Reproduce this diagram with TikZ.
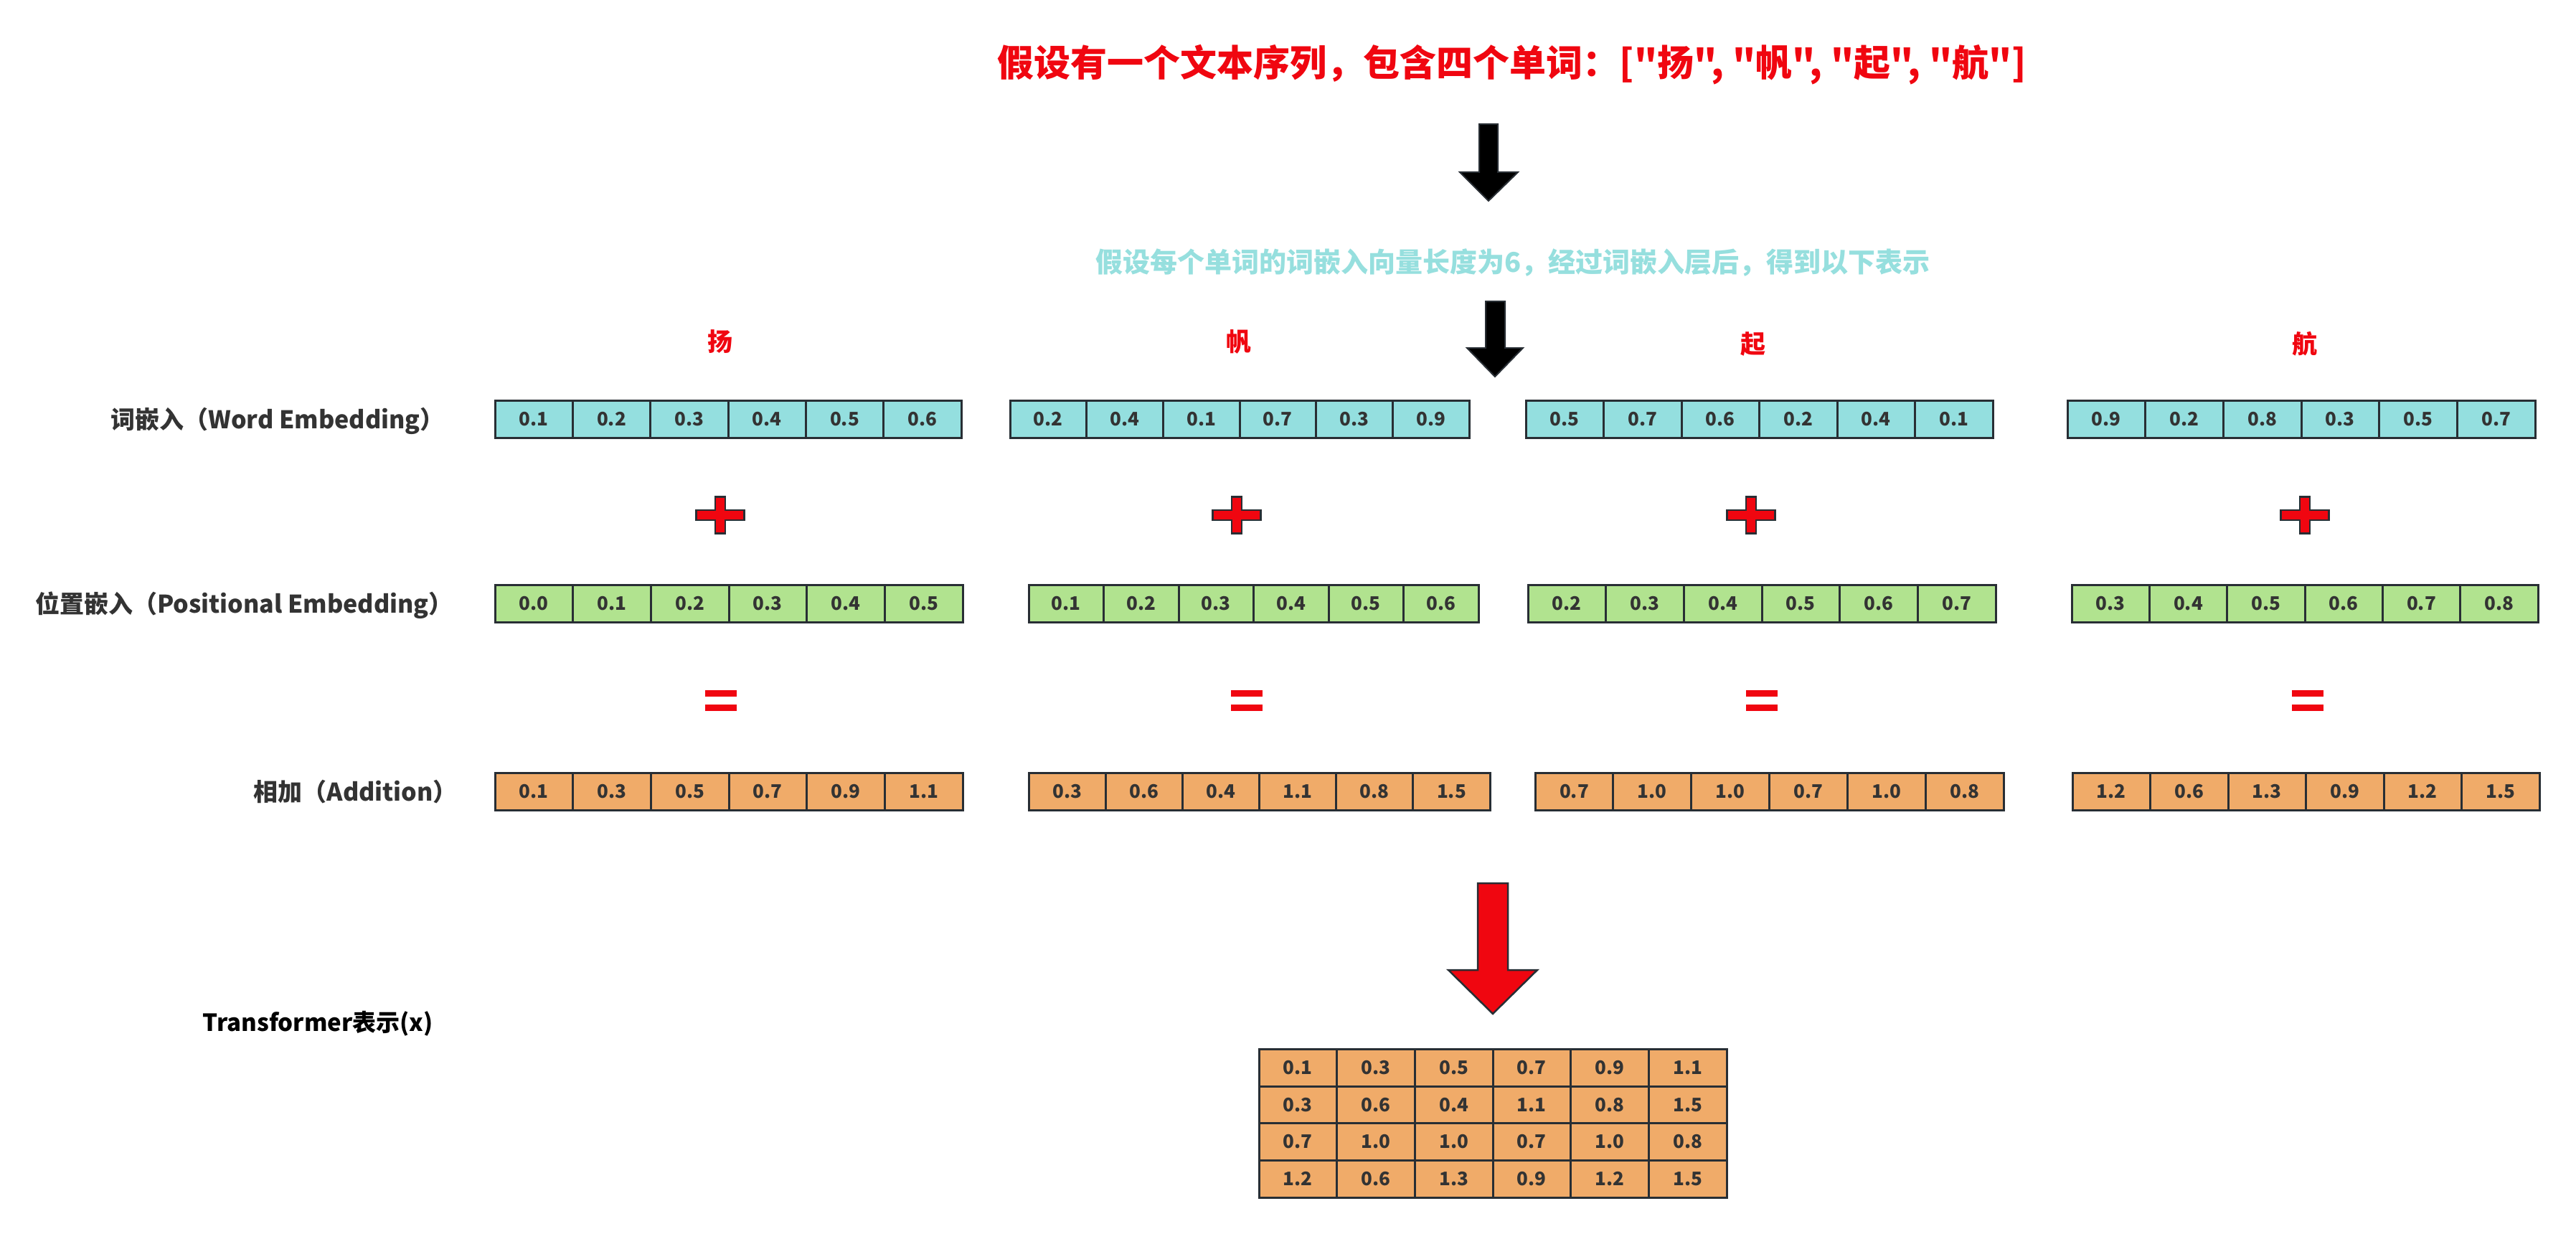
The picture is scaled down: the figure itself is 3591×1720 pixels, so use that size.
\documentclass[tikz,border=0pt]{standalone}
\usepackage{fontspec}
\setmainfont{Noto Sans CJK SC}[Ligatures=TeXOff]
\definecolor{tred}{RGB}{240,6,16}
\definecolor{tsub}{RGB}{150,223,222}
\definecolor{cteal}{RGB}{148,223,223}
\definecolor{cgreen}{RGB}{177,227,143}
\definecolor{corange}{RGB}{240,171,105}
\definecolor{cborder}{RGB}{40,46,52}
\definecolor{ctext}{RGB}{51,51,51}
\newcommand\fs[1]{\fontsize{#1pt}{#1pt}\selectfont}
\tikzset{
  cell/.style={draw=cborder, line width=3pt, minimum height=52pt, inner sep=0pt,
    font=\fs{26}\bfseries, text=ctext, anchor=center},
  rowlabel/.style={anchor=east, font=\fs{34}\bfseries, text=ctext, inner sep=0pt},
  wordlabel/.style={font=\fs{35}\bfseries, text=tred, inner sep=0pt},
  blkarrow/.style={fill=black, draw=cborder, line width=2pt, line join=miter},
  redshape/.style={fill=tred, draw=cborder, line width=2.5pt, line join=miter},
  eqbar/.style={fill=tred, draw=none},
}
\newcommand\vecrow[6]{%
  \pgfmathsetmacro\cw{(#4-#3)/6}%
  \foreach \v [count=\i] in {#6}{%
    \node[cell, fill=#2, minimum width=\cw pt] (#1-\i) at ({#3+(\i-0.5)*\cw}, #5) {\v};
  }%
}
\newcommand\plusat[2]{%
  \begin{scope}[shift={(#1,#2)}]
    \path[redshape] (-7,-25.5) -- (7,-25.5) -- (7,-7) -- (33.5,-7) -- (33.5,7) -- (7,7)
      -- (7,25.5) -- (-7,25.5) -- (-7,7) -- (-33.5,7) -- (-33.5,-7) -- (-7,-7) -- cycle;
  \end{scope}}
\newcommand\eqat[2]{%
  \begin{scope}[shift={(#1,#2)}]
    \path[eqbar] (-22,-14.5) rectangle (22,-5.5);
    \path[eqbar] (-22,5.5) rectangle (22,14.5);
  \end{scope}}
\begin{document}
\begin{tikzpicture}[x=1pt,y=-1pt]
\useasboundingbox[fill=white] (0,0) rectangle (3591,1720);

% title and subtitle
\node[font=\fs{51}\bfseries, text=tred, inner sep=0pt] (title) at (2108,90)
  {假设有一个文本序列，包含四个单词：["扬", "帆", "起", "航"]};
\node[font=\fs{38}\bfseries, text=tsub, inner sep=0pt] (sub) at (2109,366)
  {假设每个单词的词嵌入向量长度为6，经过词嵌入层后，得到以下表示};

% black arrows
\path[blkarrow] (2062,173) -- (2088,173) -- (2088,240) -- (2116,240) -- (2075,280)
  -- (2035,240) -- (2062,240) -- cycle;
\path[blkarrow] (2071,420) -- (2098,420) -- (2098,485) -- (2123,485) -- (2084,525)
  -- (2045,485) -- (2071,485) -- cycle;

% word labels
\node[wordlabel] (wa) at (1004,476) {扬};
\node[wordlabel] (wb) at (1727,476) {帆};
\node[wordlabel] (wc) at (2444,480) {起};
\node[wordlabel] (wd) at (3213,479) {航};

% row labels
\node[rowlabel] (lw) at (620,587) {词嵌入（Word Embedding）};
\node[rowlabel] (lp) at (632,844) {位置嵌入（Positional Embedding）};
\node[rowlabel] (la) at (638,1104) {相加（Addition）};
\node[rowlabel, font=\fs{33}\bfseries, text=black] (lt) at (604,1427) {Transformer表示(x)};

% word embedding row
\vecrow{e1}{cteal}{690}{1340}{584}{0.1,0.2,0.3,0.4,0.5,0.6}
\vecrow{e2}{cteal}{1408}{2048}{584}{0.2,0.4,0.1,0.7,0.3,0.9}
\vecrow{e3}{cteal}{2127}{2778}{584}{0.5,0.7,0.6,0.2,0.4,0.1}
\vecrow{e4}{cteal}{2882}{3534}{584}{0.9,0.2,0.8,0.3,0.5,0.7}

% plus signs
\plusat{1004}{718}
\plusat{1724}{718}
\plusat{2441}{718}
\plusat{3213}{718}

% positional embedding row
\vecrow{p1}{cgreen}{690}{1342}{841}{0.0,0.1,0.2,0.3,0.4,0.5}
\vecrow{p2}{cgreen}{1434}{2061}{841}{0.1,0.2,0.3,0.4,0.5,0.6}
\vecrow{p3}{cgreen}{2130}{2782}{841}{0.2,0.3,0.4,0.5,0.6,0.7}
\vecrow{p4}{cgreen}{2888}{3538}{841}{0.3,0.4,0.5,0.6,0.7,0.8}

% equals signs
\eqat{1005}{976.5}
\eqat{1738}{976.5}
\eqat{2456}{976.5}
\eqat{3217}{976.5}

% addition row
\vecrow{s1}{corange}{690}{1342}{1103}{0.1,0.3,0.5,0.7,0.9,1.1}
\vecrow{s2}{corange}{1434}{2077}{1103}{0.3,0.6,0.4,1.1,0.8,1.5}
\vecrow{s3}{corange}{2140}{2793}{1103}{0.7,1.0,1.0,0.7,1.0,0.8}
\vecrow{s4}{corange}{2889}{3540}{1103}{1.2,0.6,1.3,0.9,1.2,1.5}

% red arrow
\path[redshape] (2060,1231) -- (2102,1231) -- (2102,1352) -- (2143,1352) -- (2081,1413)
  -- (2019,1352) -- (2060,1352) -- cycle;

% result matrix
\vecrow{m1}{corange}{1755}{2407}{1488.5}{0.1,0.3,0.5,0.7,0.9,1.1}
\vecrow{m2}{corange}{1755}{2407}{1540}{0.3,0.6,0.4,1.1,0.8,1.5}
\vecrow{m3}{corange}{1755}{2407}{1591.5}{0.7,1.0,1.0,0.7,1.0,0.8}
\vecrow{m4}{corange}{1755}{2407}{1643.5}{1.2,0.6,1.3,0.9,1.2,1.5}
\end{tikzpicture}
\end{document}
